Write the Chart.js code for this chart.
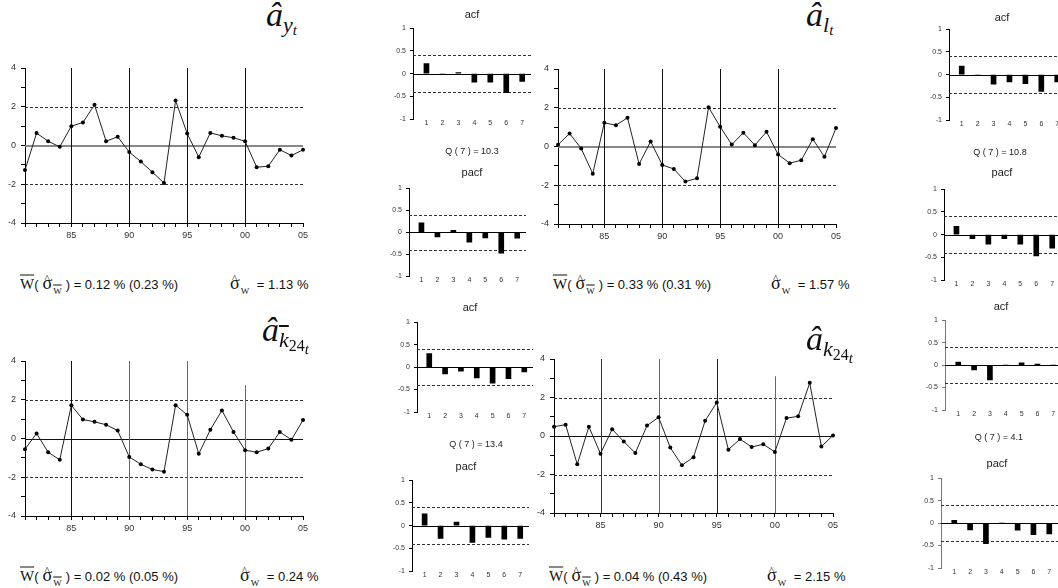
<!DOCTYPE html>
<html>
<head>
<meta charset="utf-8">
<script src="https://cdn.jsdelivr.net/npm/chart.js@4.4.0/dist/chart.umd.min.js"></script>
<style>
html, body { margin: 0; padding: 0; background: #fff; width: 1058px; height: 588px; overflow: hidden; position: relative; }
canvas { position: absolute; }
.lbl { position: absolute; transform: translate(-50%, -50%); font-family: "Liberation Sans", Arial, sans-serif; color: #222; white-space: nowrap; }
.st { position: absolute; transform: translateY(-50%); font: 13px "Liberation Sans", Arial, sans-serif; color: #111; white-space: nowrap; }
.wb { font-family: "Liberation Serif", serif; font-size: 15px; text-decoration: overline; }
.sg { font-family: "Liberation Serif", serif; font-size: 18px; position: relative; display: inline-block; margin: 0 1px 0 4px; }
.sg .ht { position: absolute; left: 2px; top: 0px; font-size: 11px; line-height: 1; }
.sb { font-family: "Liberation Serif", serif; font-size: 9px; position: relative; top: 5px; margin-right: 4px; }
.sb .wb { font-size: 9px; }
.mt { position: absolute; font-family: "Liberation Serif", "DejaVu Serif", serif; font-style: italic; color: #111; white-space: nowrap; line-height: 1; }
.mt .a { font-size: 34px; }
.mt .s1 { font-size: 22px; position: relative; top: 6px; }
.mt .s2 { font-size: 16px; position: relative; top: 4px; font-style: normal; }
.mt .s3 { font-size: 15px; position: relative; top: 3px; font-style: italic; }
.mt .ov { text-decoration: overline; }
</style>
</head>
<body>
<script>
var FONT = '"Liberation Sans", Arial, sans-serif';
Chart.defaults.font.family = FONT;
Chart.defaults.color = '#333';

// years of the four residual series
var years = [1981, 1982, 1983, 1984, 1985, 1986, 1987, 1988, 1989, 1990, 1991, 1992, 1993,
             1994, 1995, 1996, 1997, 1998, 1999, 2000, 2001, 2002, 2003, 2004, 2005];
var decades = [1985, 1990, 1995, 2000];

// standardised residuals
var aY    = [-1.27, 0.64, 0.22, -0.07, 1.00, 1.19, 2.10, 0.22, 0.45, -0.34, -0.83, -1.38, -1.93,
             2.32, 0.62, -0.60, 0.65, 0.50, 0.40, 0.22, -1.12, -1.07, -0.22, -0.52, -0.22];
var aL    = [0.09, 0.67, -0.10, -1.40, 1.22, 1.10, 1.48, -0.90, 0.26, -0.95, -1.16, -1.81, -1.64,
             2.02, 1.02, 0.10, 0.71, 0.07, 0.76, -0.41, -0.86, -0.71, 0.38, -0.53, 0.95];
var aKbar = [-0.55, 0.26, -0.71, -1.10, 1.71, 0.98, 0.86, 0.71, 0.41, -0.95, -1.33, -1.60, -1.71,
             1.72, 1.22, -0.79, 0.45, 1.45, 0.34, -0.60, -0.71, -0.52, 0.34, -0.07, 0.95];
var aK    = [0.48, 0.59, -1.47, 0.48, -0.92, 0.35, -0.29, -0.88, 0.54, 0.97, -0.60, -1.52, -1.10,
             0.79, 1.74, -0.71, -0.16, -0.57, -0.43, -0.83, 0.93, 1.02, 2.76, -0.54, 0.03];

// autocorrelations, lags 1..7
var lags = [1, 2, 3, 4, 5, 6, 7];
var acfY     = [0.22, -0.02, 0.02, -0.19, -0.19, -0.42, -0.17];
var pacfY    = [0.21, -0.11, 0.04, -0.23, -0.13, -0.48, -0.14];
var acfL     = [0.19, -0.02, -0.21, -0.16, -0.20, -0.37, -0.16];
var pacfL    = [0.18, -0.09, -0.21, -0.09, -0.21, -0.47, -0.30];
var acfKbar  = [0.30, -0.15, -0.09, -0.24, -0.36, -0.26, -0.11];
var pacfKbar = [0.26, -0.28, 0.08, -0.37, -0.26, -0.30, -0.28];
var acfK     = [0.07, -0.11, -0.33, 0, 0.05, 0.02, 0];
var pacfK    = [0.06, -0.15, -0.46, 0, -0.16, -0.26, -0.24];
var band = 0.4;

var qStat  = [10.3, 10.8, 13.4, 4.1];
var meanW  = [0.12, 0.33, 0.02, 0.04];
var seMean = [0.23, 0.31, 0.05, 0.43];
var sigmaW = [1.13, 1.57, 0.24, 2.15];

function place(left, top, w, h) {
    var c = document.createElement('canvas');
    w = Math.round(w); h = Math.round(h);
    c.width = w; c.height = h;
    c.style.left = Math.round(left) + 'px';
    c.style.top = Math.round(top) + 'px';
    c.style.width = w + 'px';
    c.style.height = h + 'px';
    document.body.appendChild(c);
    return c;
}

function refPlugin(hLines, vLines) {
    return {
        id: 'refs',
        beforeDatasetsDraw: function (chart) {
            var ctx = chart.ctx, a = chart.chartArea, x = chart.scales.x, y = chart.scales.y;
            ctx.save();
            hLines.forEach(function (l) {
                var py = Math.round(y.getPixelForValue(l.v)) + (l.width % 2 ? 0.5 : 0);
                ctx.beginPath();
                ctx.strokeStyle = l.color;
                ctx.lineWidth = l.width;
                ctx.setLineDash(l.dash || []);
                ctx.moveTo(a.left, py);
                ctx.lineTo(a.right, py);
                ctx.stroke();
            });
            vLines.forEach(function (l) {
                var px = Math.round(x.getPixelForValue(l.v)) + 0.5;
                ctx.beginPath();
                ctx.strokeStyle = l.color;
                ctx.lineWidth = 1;
                ctx.setLineDash([]);
                ctx.moveTo(px, y.getPixelForValue(l.top));
                ctx.lineTo(px, a.bottom);
                ctx.stroke();
            });
            ctx.restore();
        }
    };
}

function lineChart(g, values, zeroColor, zeroWidth, vColors, vTops) {
    var padT = 12, padR = 16, yW = 25, xH = 24;
    var w = Math.round(g.right - g.left) + yW + padR;
    var h = Math.round(g.bottom - g.top) + padT + xH;
    var cv = place(g.left - yW, g.top - padT, w, h);
    var hl = [
        {v: 0, color: zeroColor, width: zeroWidth},
        {v: 2, color: '#333', width: 1, dash: [3, 2]},
        {v: -2, color: '#333', width: 1, dash: [3, 2]}
    ];
    var vl = decades.map(function (d, i) { return {v: d, color: vColors[i], top: vTops[i]}; });
    return new Chart(cv, {
        type: 'line',
        data: {
            datasets: [{
                data: years.map(function (yr, i) { return {x: yr, y: values[i]}; }),
                borderColor: '#222', borderWidth: 1,
                pointRadius: 2, pointBackgroundColor: '#000', pointBorderWidth: 0,
                tension: 0, clip: false
            }]
        },
        options: {
            responsive: false, animation: false, events: [],
            layout: {padding: {top: padT, right: padR, left: 0, bottom: 0}},
            plugins: {legend: {display: false}, tooltip: {enabled: false}},
            scales: {
                x: {
                    type: 'linear', min: 1981, max: 2005,
                    afterFit: function (s) { s.height = xH; },
                    ticks: {
                        stepSize: 1, autoSkip: false, maxRotation: 0, padding: 3,
                        font: {size: 9}, color: '#333',
                        callback: function (v) { return v % 5 === 0 ? String(v).slice(2) : ''; }
                    },
                    grid: {drawOnChartArea: false, tickLength: 4, color: '#000'},
                    border: {color: '#000'}
                },
                y: {
                    min: -4, max: 4,
                    afterFit: function (s) { s.width = yW; },
                    ticks: {
                        stepSize: 1, autoSkip: false, padding: 5,
                        font: {size: 9}, color: '#333',
                        callback: function (v) { return v % 2 === 0 ? String(v) : ''; }
                    },
                    grid: {drawOnChartArea: false, tickLength: 4, color: '#000'},
                    border: {color: '#000'}
                }
            }
        },
        plugins: [refPlugin(hl, vl)]
    });
}

function barChart(g, values, axisColor) {
    var step = 15.9, padT = 5, padR = 4, yW = 22, xH = 12;
    var xmin = 1 - (g.lag1 - g.axis) / step, xmax = 7.55;
    var pw = Math.round((xmax - xmin) * step);
    var ph = Math.round(g.bottom - g.top);
    var cv = place(g.axis - yW, g.top - padT, yW + pw + padR, padT + ph + xH);
    var hl = [
        {v: 0, color: '#000', width: 1},
        {v: band, color: '#333', width: 1, dash: [3, 2]},
        {v: -band, color: '#333', width: 1, dash: [3, 2]}
    ];
    return new Chart(cv, {
        type: 'bar',
        data: {
            datasets: [{
                data: lags.map(function (l, i) { return {x: l, y: values[i]}; }),
                backgroundColor: '#000', barThickness: 5
            }]
        },
        options: {
            responsive: false, animation: false, events: [],
            layout: {padding: {top: padT, right: padR, left: 0, bottom: 0}},
            plugins: {legend: {display: false}, tooltip: {enabled: false}},
            scales: {
                x: {
                    type: 'linear', min: xmin, max: xmax, offset: false,
                    afterFit: function (s) { s.height = xH; },
                    ticks: {
                        stepSize: 1, autoSkip: false, maxRotation: 0, padding: 0, includeBounds: false,
                        font: {size: 7}, color: '#333',
                        callback: function (v) { return (v >= 1 && v <= 7 && Number.isInteger(v)) ? String(v) : ''; }
                    },
                    grid: {display: false, drawTicks: false, offset: false},
                    border: {display: false}
                },
                y: {
                    min: -1, max: 1,
                    afterFit: function (s) { s.width = yW; },
                    ticks: {
                        stepSize: 0.5, padding: 4, font: {size: 7}, color: '#333',
                        callback: function (v) { return String(v); }
                    },
                    grid: {drawOnChartArea: false, tickLength: 3, color: axisColor},
                    border: {color: axisColor}
                }
            }
        },
        plugins: [refPlugin(hl, [])]
    });
}

function label(x, y, html, size) {
    var d = document.createElement('div');
    d.className = 'lbl';
    d.style.left = x + 'px';
    d.style.top = y + 'px';
    d.style.fontSize = size + 'px';
    d.innerHTML = html;
    document.body.appendChild(d);
}

function stat(x, y, html) {
    var d = document.createElement('div');
    d.className = 'st';
    d.style.left = x + 'px';
    d.style.top = y + 'px';
    d.innerHTML = html;
    document.body.appendChild(d);
}

function meanText(m, se) {
    return '<span class="wb">W</span>(<span class="sg">&sigma;<span class="ht">^</span></span>' +
        '<span class="sb"><span class="wb">W</span></span>) = ' + m.toFixed(2) + ' % (' + se.toFixed(2) + ' %)';
}
function sigmaText(s) {
    return '<span class="sg">&sigma;<span class="ht">^</span></span><span class="sb">W</span> = ' + s.toFixed(2) + ' %';
}

function mathTitle(x, y, html) {
    var d = document.createElement('div');
    d.className = 'mt';
    d.style.left = x + 'px';
    d.style.top = y + 'px';
    d.innerHTML = html;
    document.body.appendChild(d);
}

// residual plots
lineChart({left: 25, right: 302.7, top: 68.3, bottom: 223.3}, aY, '#888', 2,
    ['#111', '#111', '#111', '#111'], [4, 4, 4, 4]);
lineChart({left: 558.3, right: 836.7, top: 69.3, bottom: 224}, aL, '#888', 2,
    ['#111', '#111', '#111', '#111'], [4, 4, 4, 4]);
lineChart({left: 25, right: 303.3, top: 361, bottom: 515.7}, aKbar, '#111', 1,
    ['#111', '#666', '#666', '#666'], [4, 4, 4, 2.75]);
lineChart({left: 554, right: 833, top: 359.3, bottom: 513.7}, aK, '#111', 1,
    ['#333', '#666', '#222', '#666'], [4, 4, 4, 3.1]);

// correlograms
barChart({axis: 413.3, top: 25, bottom: 119, lag1: 426.7}, acfY, '#000');
barChart({axis: 409.3, top: 185.3, bottom: 276.7, lag1: 421.7}, pacfY, '#000');
barChart({axis: 949, top: 26, bottom: 120, lag1: 961.7}, acfL, '#000');
barChart({axis: 944.3, top: 185.7, bottom: 279.3, lag1: 956.7}, pacfL, '#000');
barChart({axis: 416.7, top: 319, bottom: 412, lag1: 429}, acfKbar, '#000');
barChart({axis: 411.7, top: 476.7, bottom: 570.7, lag1: 424.3}, pacfKbar, '#000');
barChart({axis: 945, top: 316.7, bottom: 409.7, lag1: 958.3}, acfK, '#777');
barChart({axis: 940.7, top: 475, bottom: 568.3, lag1: 954}, pacfK, '#777');

// acf / pacf titles and Ljung-Box statistics
label(472, 14, 'acf', 11);
label(472, 172, 'pacf', 11);
label(472, 151, 'Q ( 7 ) = ' + qStat[0].toFixed(1), 9);
label(1002, 17, 'acf', 11);
label(1002, 172, 'pacf', 11);
label(1000, 152, 'Q ( 7 ) = ' + qStat[1].toFixed(1), 9);
label(470, 307, 'acf', 11);
label(466, 466, 'pacf', 11);
label(476, 444, 'Q ( 7 ) = ' + qStat[2].toFixed(1), 9);
label(1001, 306, 'acf', 11);
label(997, 463, 'pacf', 11);
label(999, 437, 'Q ( 7 ) = ' + qStat[3].toFixed(1), 9);

// summary statistics under each plot
stat(20, 283, meanText(meanW[0], seMean[0]));
stat(226, 283, sigmaText(sigmaW[0]));
stat(553, 283, meanText(meanW[1], seMean[1]));
stat(767, 283, sigmaText(sigmaW[1]));
stat(20, 575, meanText(meanW[2], seMean[2]));
stat(236, 575, sigmaText(sigmaW[2]));
stat(549, 575, meanText(meanW[3], seMean[3]));
stat(763, 575, sigmaText(sigmaW[3]));

// panel titles
mathTitle(266, -2, '<span class="a">&acirc;</span><span class="s1">y<span class="s3">t</span></span>');
mathTitle(806, -2, '<span class="a">&acirc;</span><span class="s1">l<span class="s3">t</span></span>');
mathTitle(262, 313, '<span class="a">&acirc;</span><span class="s1"><span class="ov">k</span><span class="s2">24<span class="s3">t</span></span></span>');
mathTitle(806, 322, '<span class="a">&acirc;</span><span class="s1">k<span class="s2">24<span class="s3">t</span></span></span>');
</script>
</body>
</html>
